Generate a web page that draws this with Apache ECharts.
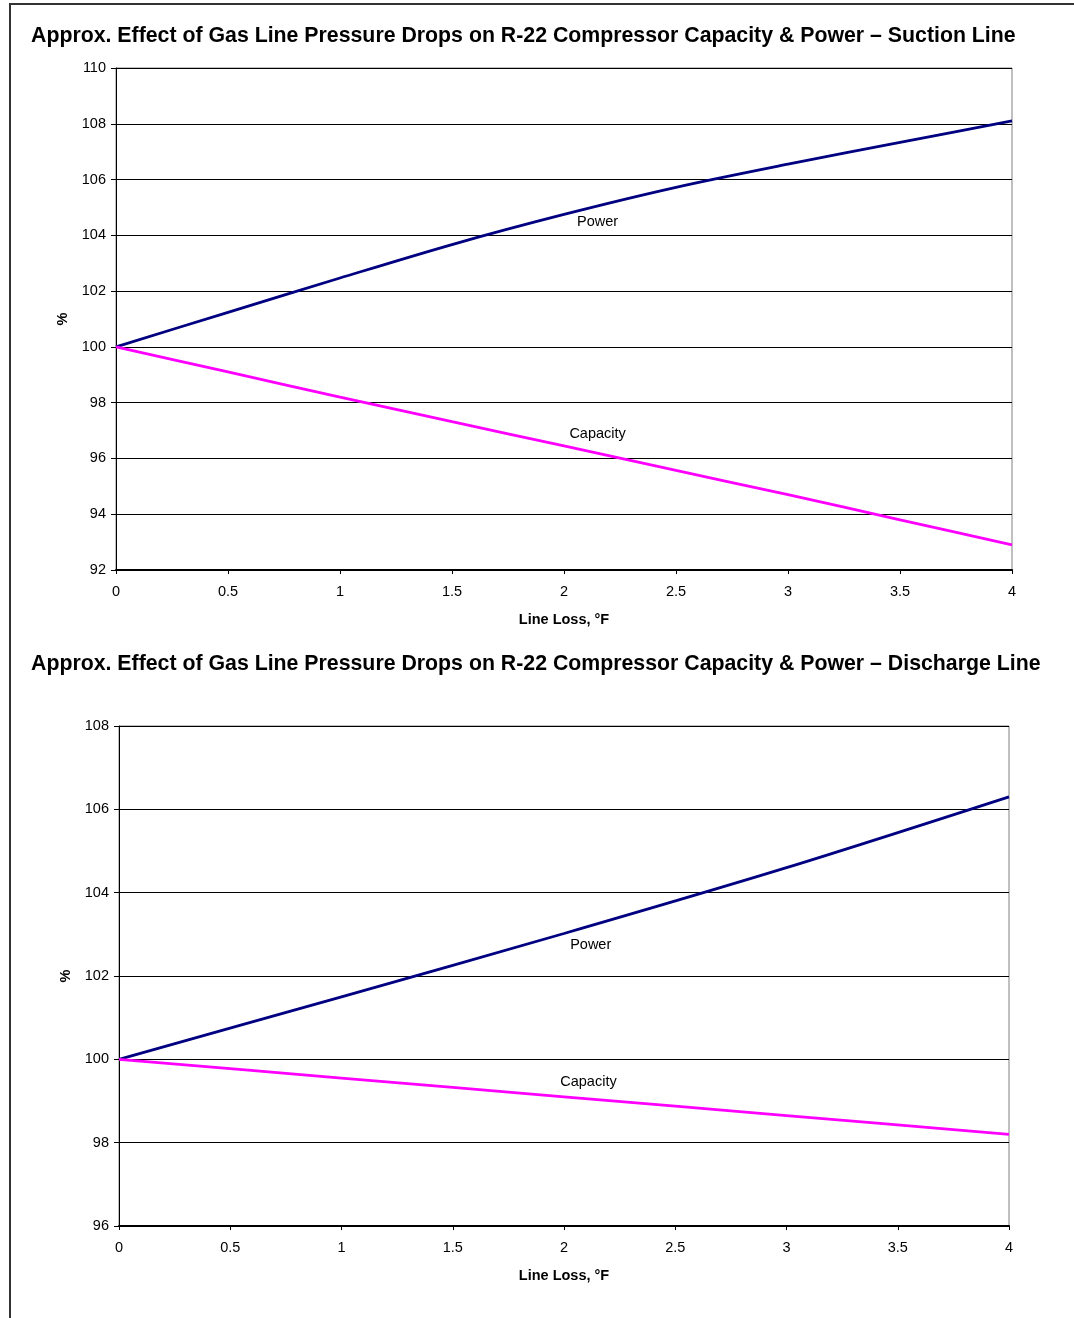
<!DOCTYPE html>
<html>
<head>
<meta charset="utf-8">
<script src="https://cdn.jsdelivr.net/npm/echarts@6/dist/echarts.min.js"></script>
<style>
html,body{margin:0;padding:0;background:#fff;}
#frame{position:absolute;left:9px;top:3px;width:1065px;height:1315px;border-top:2px solid #333;border-left:2px solid #333;}
#c{position:absolute;left:0;top:0;width:1074px;height:1318px;}
</style>
</head>
<body>
<div id="frame"></div>
<div id="c"></div>
<script>
// ---- data ----
const titles = [
  'Approx. Effect of Gas Line Pressure Drops on R-22 Compressor Capacity & Power \u2013 Suction Line',
  'Approx. Effect of Gas Line Pressure Drops on R-22 Compressor Capacity & Power \u2013 Discharge Line'
];
const xAxisName = 'Line Loss, \u00B0F';
const yAxisName = '%';

const suctionX        = [0, 0.5, 1, 1.5, 2, 2.5, 3, 3.5, 4];
const suctionPower    = [100, 101.24, 102.47, 103.67, 104.75, 105.72, 106.55, 107.33, 108.1];
const suctionCapacity = [100, 99.1, 98.2, 97.32, 96.45, 95.57, 94.7, 93.8, 92.9];

const dischargeX        = [0, 1, 2, 3, 4];
const dischargePower    = [100, 101.5, 103.02, 104.6, 106.3];
const dischargeCapacity = [100, 99.55, 99.1, 98.65, 98.2];

const suctionLabels   = [['Power', 2.15, 104.48], ['Capacity', 2.15, 96.88]];
const dischargeLabels = [['Power', 2.12, 102.74], ['Capacity', 2.11, 99.46]];

const suctionY   = {min: 92, max: 110, interval: 2};
const dischargeY = {min: 96, max: 108, interval: 2};
const xRange     = {min: 0, max: 4, interval: 0.5};

// ---- chart ----
const FONT = 'Liberation Sans, Arial, sans-serif';
const FS = 14.5;
const chart = echarts.init(document.getElementById('c'), null, {renderer: 'canvas'});

function pairs(xs, ys){ return xs.map((x,i)=>[x, ys[i]]); }

function xAxisCfg(gi){
  return {
    type: 'value', gridIndex: gi, min: xRange.min, max: xRange.max, interval: xRange.interval,
    name: xAxisName, nameLocation: 'middle', nameGap: 42,
    nameTextStyle: {fontFamily: FONT, fontSize: FS, fontWeight: 'bold', color: '#000'},
    axisLine: {show: true, lineStyle: {color: '#000', width: 2}},
    axisTick: {show: true, length: 4, lineStyle: {color: '#000'}},
    axisLabel: {fontFamily: FONT, fontSize: FS, color: '#000', margin: 14},
    splitLine: {show: false}
  };
}
function yAxisCfg(gi, r, gap){
  return {
    type: 'value', gridIndex: gi, min: r.min, max: r.max, interval: r.interval,
    name: yAxisName, nameLocation: 'middle', nameGap: gap, nameRotate: 90,
    nameTextStyle: {fontFamily: FONT, fontSize: FS, fontWeight: 'bold', color: '#000'},
    axisLine: {show: true, lineStyle: {color: '#000', width: 1}},
    axisTick: {show: true, length: 5, lineStyle: {color: '#000'}},
    axisLabel: {fontFamily: FONT, fontSize: FS, color: '#000', margin: 10},
    splitLine: {show: true, lineStyle: {color: '#000', width: 1}}
  };
}
function labelMarks(list){
  return {
    symbol: 'circle', symbolSize: 0, silent: true,
    label: {show: true, position: 'inside', color: '#000', fontFamily: FONT, fontSize: FS,
            formatter: p => p.name},
    data: list.map(l => ({name: l[0], coord: [l[1], l[2]]}))
  };
}
function lineSeries(gi, xs, ys, color, smooth, marks){
  return {
    type: 'line', xAxisIndex: gi, yAxisIndex: gi, data: pairs(xs, ys),
    showSymbol: false, symbol: 'none', smooth: smooth,
    lineStyle: {color: color, width: 2.8}, itemStyle: {color: color},
    markPoint: marks, animation: false, z: 3
  };
}

chart.setOption({
  animation: false,
  title: [
    {text: titles[0], left: 26, top: 21, textStyle: {fontFamily: FONT, fontSize: 21.3, fontWeight: 'bold', color: '#000'}},
    {text: titles[1], left: 26, top: 649, textStyle: {fontFamily: FONT, fontSize: 21.3, fontWeight: 'bold', color: '#000'}}
  ],
  grid: [
    {left: 116, top: 68, width: 896, height: 502, show: true, borderColor: '#808080', borderWidth: 1, backgroundColor: 'transparent'},
    {left: 119, top: 726, width: 890, height: 500, show: true, borderColor: '#808080', borderWidth: 1, backgroundColor: 'transparent'}
  ],
  xAxis: [xAxisCfg(0), xAxisCfg(1)],
  yAxis: [yAxisCfg(0, suctionY, 44), yAxisCfg(1, dischargeY, 43)],
  series: [
    lineSeries(0, suctionX, suctionPower, '#000080', 0.3, labelMarks([suctionLabels[0]])),
    lineSeries(0, suctionX, suctionCapacity, '#FF00FF', 0.3, labelMarks([suctionLabels[1]])),
    lineSeries(1, dischargeX, dischargePower, '#000080', 0.3, labelMarks([dischargeLabels[0]])),
    lineSeries(1, dischargeX, dischargeCapacity, '#FF00FF', 0.3, labelMarks([dischargeLabels[1]]))
  ]
});
</script>
</body>
</html>
